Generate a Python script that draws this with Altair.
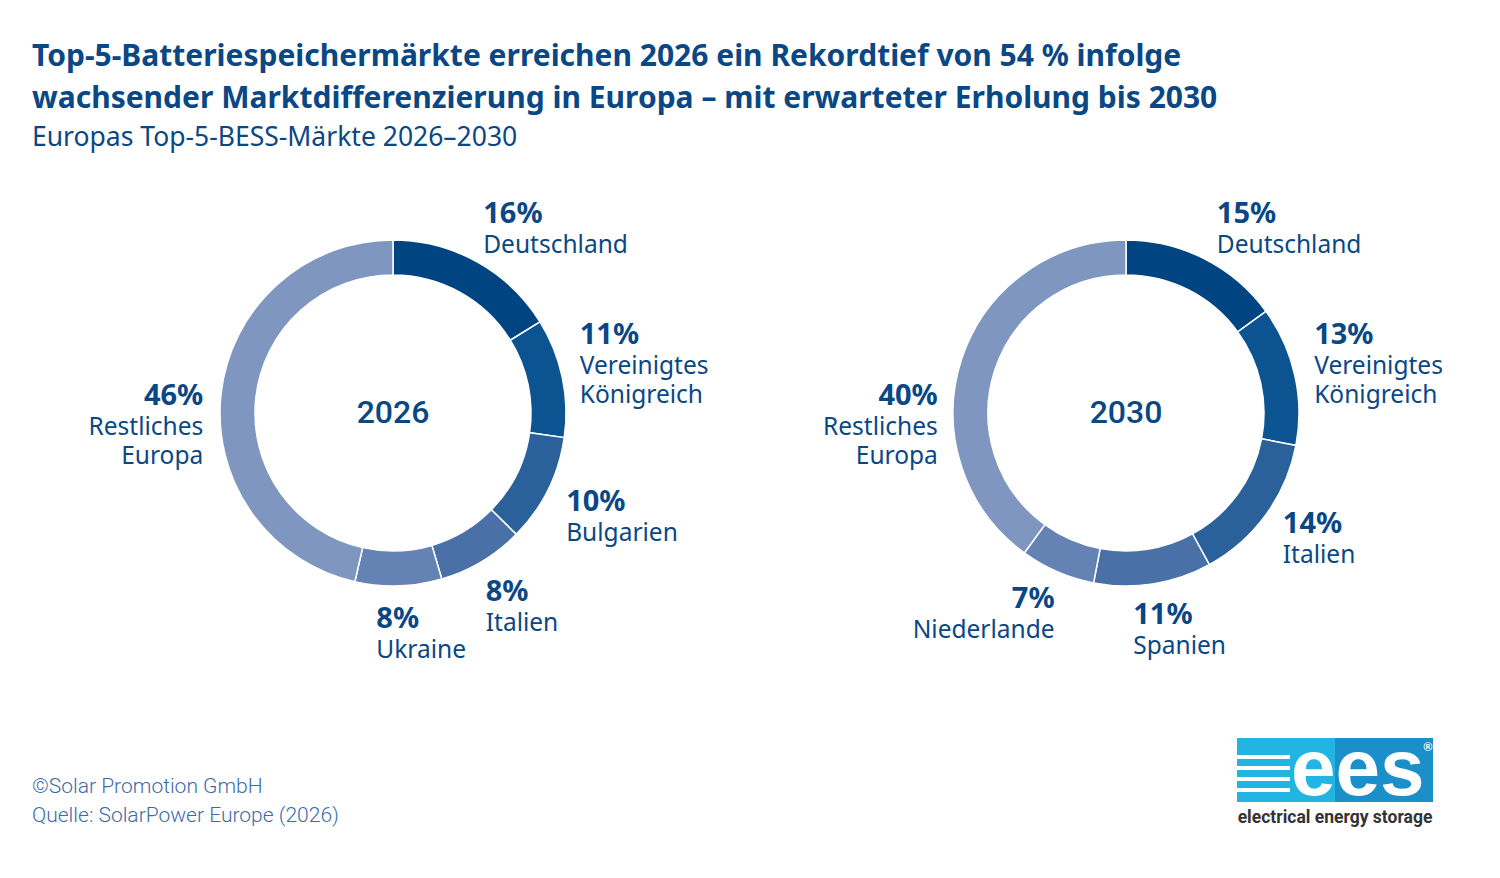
import altair as alt
import pandas as pd

# ---------------- data ----------------
years = ["2026", "2030"]
countries_2026 = ["Deutschland", "Vereinigtes Königreich", "Bulgarien", "Italien", "Ukraine", "Restliches Europa"]
shares_2026 = [16, 11, 10, 8, 8, 46]
countries_2030 = ["Deutschland", "Vereinigtes Königreich", "Italien", "Spanien", "Niederlande", "Restliches Europa"]
shares_2030 = [15, 13, 14, 11, 7, 40]

title_lines = [
    "Top-5-Batteriespeichermärkte erreichen 2026 ein Rekordtief von 54 % infolge",
    "wachsender Marktdifferenzierung in Europa – mit erwarteter Erholung bis 2030",
]
subtitle = "Europas Top-5-BESS-Märkte 2026–2030"
footer_lines = ["©Solar Promotion GmbH", "Quelle: SolarPower Europe (2026)"]

# ---------------- style ----------------
FONT = "Noto Sans"
NAVY = "#0a4785"
palette = ["#004582", "#0b5391", "#2a619b", "#4a71a7", "#6482b4", "#7e96c0"]
R_IN, R_OUT, R_LABEL = 138, 173, 200
centres = {"2026": (385, 405), "2030": (1118, 405)}
# label nudges relative to the polar anchor (dx, dy, align)
nudges = {
    ("2026", "Deutschland"): (-7, -15, "left"),
    ("2026", "Vereinigtes Königreich"): (-9, -28, "left"),
    ("2026", "Bulgarien"): (-6, 9, "left"),
    ("2026", "Italien"): (-10, 16, "left"),
    ("2026", "Ukraine"): (-23, 15, "left"),
    ("2026", "Restliches Europa"): (9, 14, "right"),
    ("2030", "Deutschland"): (0, -12, "left"),
    ("2030", "Vereinigtes Königreich"): (-7, -25, "left"),
    ("2030", "Italien"): (-5, 2, "left"),
    ("2030", "Spanien"): (-24, 13, "left"),
    ("2030", "Niederlande"): (8, 11, "right"),
    ("2030", "Restliches Europa"): (2, 54, "right"),
}

theta_scale = alt.Scale(domain=[0, 1])
one = alt.Data(values=[{"k": 1}])


def donut(year, countries, shares):
    df = pd.DataFrame({"country": countries, "share": shares, "rank": list(range(len(countries)))})
    cx, cy = centres[year]
    layers = []
    layers.append(
        alt.Chart(df).mark_arc(innerRadius=R_IN, outerRadius=R_OUT, stroke="white", strokeWidth=1.5).encode(
            theta=alt.Theta("share:Q", stack="normalize", scale=theta_scale),
            color=alt.Color("rank:O", scale=alt.Scale(domain=list(range(6)), range=palette), legend=None),
            order=alt.Order("rank:Q", sort="ascending"),
            x=alt.value(cx),
            y=alt.value(cy),
        )
    )
    base = (
        alt.Chart(df)
        .transform_stack(stack="share", groupby=[], as_=["s0", "s1"], offset="normalize",
                         sort=[alt.SortField("rank", order="ascending")])
        .transform_calculate(mid="(datum.s0 + datum.s1) / 2", pct="datum.share + '%'")
    )
    for c in countries:
        dx, dy, align = nudges[(year, c)]
        b = base.transform_filter(alt.datum.country == c)
        enc = dict(theta=alt.Theta("mid:Q", scale=theta_scale), x=alt.value(cx), y=alt.value(cy))
        layers.append(
            b.mark_text(radius=R_LABEL, dx=dx, dy=dy, align=align, baseline="alphabetic",
                        font=FONT, fontSize=29, fontWeight="bold", color=NAVY).encode(text="pct:N", **enc)
        )
        layers.append(
            b.mark_text(radius=R_LABEL, dx=dx, dy=dy + 30, align=align, baseline="alphabetic",
                        font=FONT, fontSize=24.5, fontWeight="normal", color=NAVY, lineBreak=" ",
                        lineHeight=29).encode(text="country:N", **enc)
        )
    layers.append(
        alt.Chart(alt.Data(values=[{"year": year}])).mark_text(
            font="Roboto", fontSize=32, fontWeight=500, color=NAVY, align="center", baseline="middle"
        ).encode(text="year:N", x=alt.value(cx), y=alt.value(cy))
    )
    return layers


def txt(s, x, y, size, weight="normal", color=NAVY, align="left", font=FONT):
    return alt.Chart(one).mark_text(
        text=s, font=font, fontSize=size, fontWeight=weight, color=color, align=align, baseline="alphabetic"
    ).encode(x=alt.value(x), y=alt.value(y))


def rect(x, x2, y, y2, color):
    return alt.Chart(one).mark_rect(color=color).encode(
        x=alt.value(x), x2=alt.value(x2), y=alt.value(y), y2=alt.value(y2)
    )


layers = []
layers += donut("2026", countries_2026, shares_2026)
layers += donut("2030", countries_2030, shares_2030)

# titles
layers.append(txt(title_lines[0], 24, 58, 30, "bold"))
layers.append(txt(title_lines[1], 24, 100, 30, "bold"))
layers.append(txt(subtitle, 24, 138, 26.5, "normal"))
# footer
layers.append(txt(footer_lines[0], 24, 785, 21, 300, "#3a6cab", font="Roboto"))
layers.append(txt(footer_lines[1], 24, 814, 21, 300, "#3a6cab", font="Roboto"))

# logo
layers.append(rect(1229, 1327, 730, 794, "#22b5e3"))
layers.append(rect(1327, 1425, 730, 794, "#1a8fca"))
for yy in (747, 758, 769, 780):
    layers.append(rect(1229, 1282, yy, yy + 4, "white"))
layers.append(txt("ees", 1283, 787, 80, "bold", "white", font="Liberation Sans"))
layers.append(txt("®", 1420, 743, 12, "bold", "white", align="center", font="Liberation Sans"))
layers.append(txt("electrical energy storage", 1327, 815, 17.5, "bold", "#333333", align="center",
                  font="Roboto"))

chart = (
    alt.layer(*layers)
    .properties(width=1484, height=862, padding=0, autosize=alt.AutoSizeParams(type="none"), background="white")
    .configure_view(strokeWidth=0)
)

chart.save("out.html", embed_options={"renderer": "svg", "actions": False})
